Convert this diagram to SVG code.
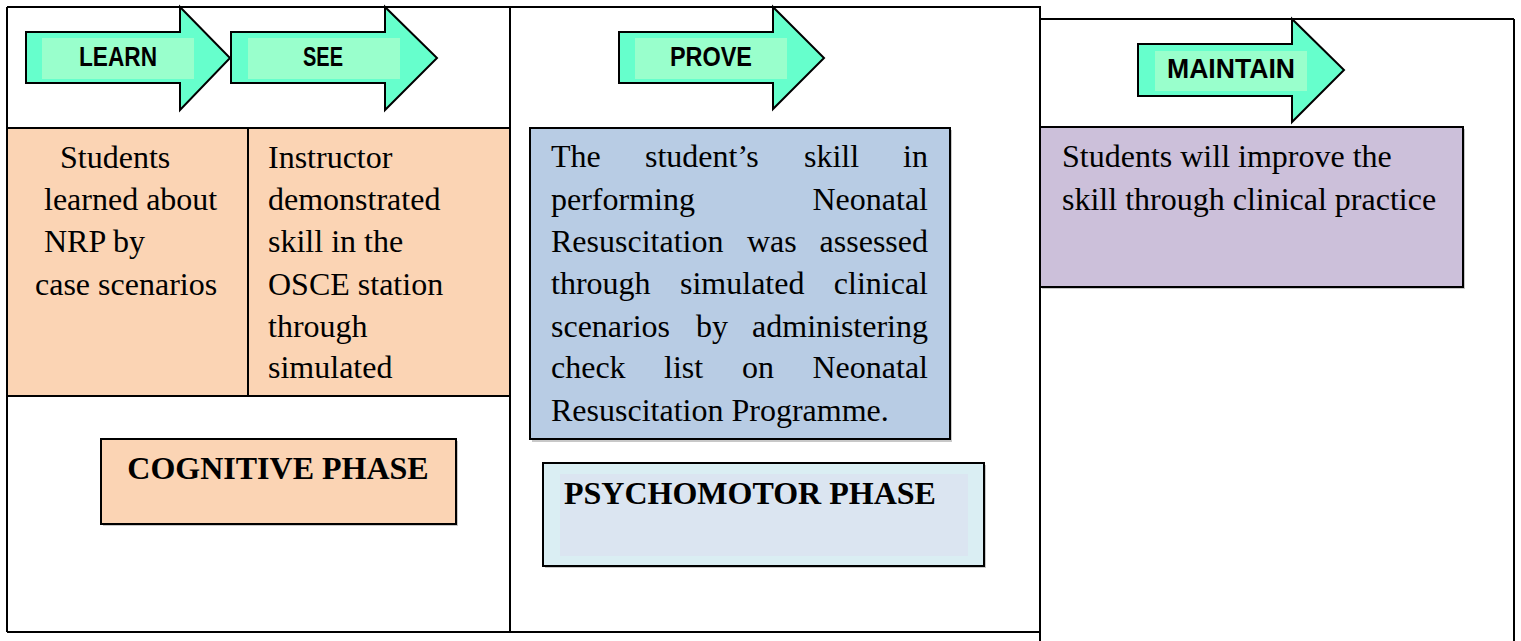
<svg xmlns="http://www.w3.org/2000/svg" width="1521" height="641" viewBox="0 0 1521 641">
<defs>
<style>
.frame{fill:none;stroke:#000;stroke-width:2}
.arrow{fill:#66FFCC;stroke:#000;stroke-width:2;stroke-linejoin:miter}
.arrowin{fill:#99FFCC}
.lbl{font-family:"Liberation Sans",Arial,sans-serif;font-weight:bold;font-size:27px;fill:#000;text-anchor:middle}
.body{font-family:"Liberation Serif","Times New Roman",serif;font-size:32px;fill:#000}
.phase{font-family:"Liberation Serif","Times New Roman",serif;font-size:32px;font-weight:bold;fill:#000}
.box{stroke:#000;stroke-width:2}
.shadow{fill:#c8c8c8}
</style>
</defs>
<rect x="0" y="0" width="1521" height="641" fill="#fff"/>

<g id="frames">
<line class="frame" x1="7" y1="7" x2="1041" y2="7"/>
<line class="frame" x1="7" y1="7" x2="7" y2="632"/>
<line class="frame" x1="7" y1="632" x2="1040" y2="632"/>
<line class="frame" x1="510" y1="7" x2="510" y2="632"/>
<line class="frame" x1="1040" y1="7" x2="1040" y2="641"/>
<line class="frame" x1="1040" y1="19" x2="1514" y2="19"/>
<line class="frame" x1="1514" y1="19" x2="1514" y2="641"/>
</g>

<g id="connectors"></g>

<g id="arrow-learn">
<path class="arrow" d="M26,32 H180 V7 L230,58 L180,110 V83 H26 Z"/>
<rect class="arrowin" x="42" y="38" width="152" height="41"/>
<text class="lbl" x="118" y="66" textLength="78" lengthAdjust="spacingAndGlyphs">LEARN</text>
</g>

<g id="arrow-see">
<path class="arrow" d="M231,32 H385 V7 L437,58 L385,110 V83 H231 Z"/>
<rect class="arrowin" x="248" y="38" width="152" height="41"/>
<text class="lbl" x="323" y="66" textLength="40" lengthAdjust="spacingAndGlyphs">SEE</text>
</g>

<g id="arrow-prove">
<path class="arrow" d="M619,32 H773 V7 L824,58 L773,109 V83 H619 Z"/>
<rect class="arrowin" x="635" y="38" width="152" height="41"/>
<text class="lbl" x="711" y="66" textLength="82" lengthAdjust="spacingAndGlyphs">PROVE</text>
</g>

<g id="arrow-maintain">
<path class="arrow" d="M1138,44 H1292 V19 L1344,70 L1292,122 V96 H1138 Z"/>
<rect class="arrowin" x="1155" y="51" width="152" height="40"/>
<text class="lbl" x="1231" y="78" textLength="128" lengthAdjust="spacingAndGlyphs">MAINTAIN</text>
</g>

<g id="learn-box">
<rect class="box" x="7" y="128" width="241" height="268" fill="#FBD4B4"/>
<text class="body" x="60" y="168">Students</text>
<text class="body" x="44" y="210">learned about</text>
<text class="body" x="44" y="252">NRP by</text>
<text class="body" x="35" y="295">case scenarios</text>
</g>

<g id="see-box">
<rect class="box" x="248" y="128" width="262" height="268" fill="#FBD4B4"/>
<text class="body" x="268" y="168">Instructor</text>
<text class="body" x="268" y="210">demonstrated</text>
<text class="body" x="268" y="252">skill in the</text>
<text class="body" x="268" y="295">OSCE station</text>
<text class="body" x="268" y="337">through</text>
<text class="body" x="268" y="378">simulated</text>
</g>

<g id="cognitive-phase">
<rect class="shadow" x="103" y="441" width="355" height="85"/>
<rect class="box" x="101" y="439" width="355" height="85" fill="#FBD4B4"/>
<text class="phase" x="278" y="479" text-anchor="middle">COGNITIVE PHASE</text>
</g>

<g id="prove-box">
<rect class="shadow" x="532" y="130" width="420" height="312"/>
<rect class="box" x="530" y="128" width="420" height="311" fill="#B8CCE4"/>
<text class="body" y="167"><tspan x="551">The</tspan><tspan x="645">student’s</tspan><tspan x="804">skill</tspan><tspan x="928" text-anchor="end">in</tspan></text>
<text class="body" y="210"><tspan x="551">performing</tspan></text>
<text class="body" y="210" x="928" text-anchor="end">Neonatal</text>
<text class="body" y="252"><tspan x="551">Resuscitation</tspan><tspan x="747">was</tspan></text>
<text class="body" y="252" x="928" text-anchor="end">assessed</text>
<text class="body" y="294"><tspan x="551">through</tspan><tspan x="680">simulated</tspan></text>
<text class="body" y="294" x="928" text-anchor="end">clinical</text>
<text class="body" y="337"><tspan x="551">scenarios</tspan><tspan x="696">by</tspan></text>
<text class="body" y="337" x="928" text-anchor="end">administering</text>
<text class="body" y="378"><tspan x="551">check</tspan><tspan x="664">list</tspan><tspan x="742">on</tspan></text>
<text class="body" y="378" x="928" text-anchor="end">Neonatal</text>
<text class="body" x="551" y="421">Resuscitation Programme.</text>
</g>

<g id="psychomotor-phase">
<rect class="shadow" x="545" y="465" width="441" height="103"/>
<rect class="box" x="543" y="463" width="441" height="103" fill="#DAEEF3"/>
<rect x="560" y="474" width="408" height="82" fill="#DBE5F1"/>
<text class="phase" x="564" y="504">PSYCHOMOTOR PHASE</text>
</g>

<g id="maintain-box">
<rect class="shadow" x="1042" y="129" width="423" height="160"/>
<rect class="box" x="1040" y="127" width="423" height="160" fill="#CCC0DA"/>
<text class="body" x="1062" y="167">Students will improve the</text>
<text class="body" x="1062" y="210">skill through clinical practice</text>
</g>
</svg>
